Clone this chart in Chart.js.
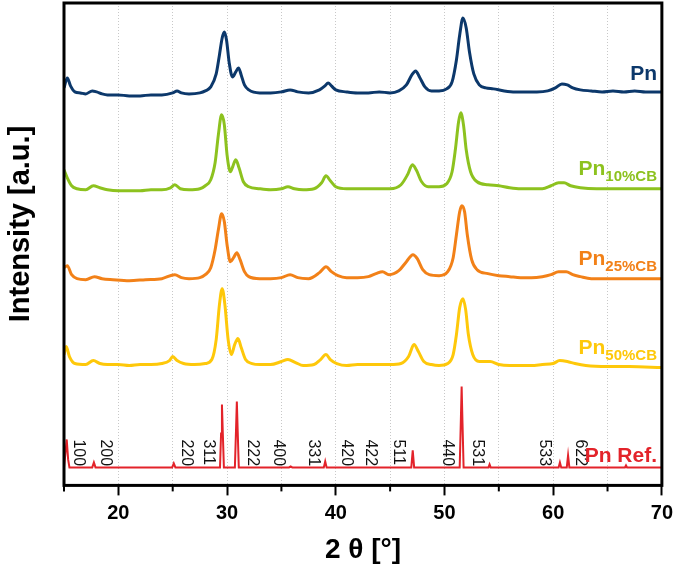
<!DOCTYPE html>
<html>
<head>
<meta charset="utf-8">
<script src="https://cdn.jsdelivr.net/npm/chart.js@4.4.0/dist/chart.umd.min.js"></script>
<style>
  body { margin: 0; background: #fff; }
  #wrap { width: 679px; height: 579px; }
</style>
</head>
<body>
<div id="wrap"><canvas id="xrd" width="679" height="579"></canvas></div>
<script>
// 2 theta positions and intensities (a.u., stacked)
const pnX = [15.0, 15.3, 15.6, 16.0, 16.5, 17.0, 17.6, 18.0, 18.5, 19.0, 20, 21, 22, 23, 24, 25, 25.4, 25.8, 26.5, 27.5, 28.0, 28.5, 29.0, 29.3, 29.55, 29.75, 29.95, 30.2, 30.5, 30.8, 31.05, 31.3, 31.6, 32.0, 33, 34, 35, 35.8, 36.5, 37.5, 38.5, 39.0, 39.3, 39.6, 40.0, 41, 42, 43, 44, 45, 45.8, 46.5, 47.0, 47.35, 47.7, 48.2, 48.8, 49.5, 50.2, 50.7, 51.1, 51.4, 51.7, 52.0, 52.3, 52.7, 53.2, 53.8, 54.5, 55.5, 56.5, 57.5, 58.5, 59.5, 60.2, 60.8, 61.3, 61.8, 62.5, 63.5, 64.5, 65.5, 66.5, 67.5, 68.5, 70];
const pnY = [398, 408, 400, 394, 393, 392, 395, 394, 392, 391, 391, 390, 390, 391, 391, 393, 395, 393, 392, 393, 395, 399, 412, 431, 448, 454, 446, 423, 409, 414, 418, 411, 401, 396, 393, 393, 394, 396, 394, 393, 396, 400, 403, 400, 396, 394, 393, 393, 394, 393, 395, 401, 411, 415, 409, 399, 395, 395, 397, 404, 426, 451, 468, 458, 434, 412, 401, 398, 397, 395, 394, 394, 394, 395, 398, 402, 401, 398, 396, 395, 394, 395, 394, 395, 394, 394];

const pn10X = [15.0, 15.3, 15.7, 16.2, 17.0, 17.7, 18.3, 19, 20, 21, 22, 23, 24, 24.8, 25.2, 25.7, 26.5, 27.5, 28.0, 28.5, 28.9, 29.2, 29.5, 29.75, 30.0, 30.3, 30.55, 30.8, 31.1, 31.5, 32.0, 33, 34, 35, 35.6, 36.2, 37, 38, 38.7, 39.1, 39.5, 40.0, 41, 42, 43, 44, 45, 46.0, 46.6, 47.05, 47.4, 47.9, 48.5, 49.5, 50.2, 50.7, 51.0, 51.3, 51.5, 51.75, 52.0, 52.4, 53.0, 54, 55, 56, 57, 58, 59, 59.8, 60.5, 61.0, 61.6, 62.5, 64, 66, 68, 70];
const pn10Y = [316, 308, 300, 297, 296, 300, 298, 296, 295, 295, 295, 296, 296, 298, 301, 297, 296, 297, 300, 306, 323, 351, 371, 361, 331, 314, 320, 326, 318, 304, 299, 297, 296, 297, 299, 297, 296, 297, 303, 310, 305, 299, 297, 297, 297, 297, 297, 301, 311, 321, 316, 304, 299, 299, 302, 314, 336, 364, 373, 361, 336, 314, 304, 301, 300, 298, 297, 297, 297, 300, 303, 303, 300, 298, 297, 297, 297, 297];

const pn25X = [15.0, 15.3, 15.7, 16.2, 17, 17.8, 18.5, 19.5, 21, 22.5, 24, 25.2, 25.8, 26.5, 27.5, 28.0, 28.5, 28.9, 29.2, 29.5, 29.75, 30.0, 30.3, 30.6, 30.9, 31.2, 31.6, 32.0, 33, 34, 35, 35.8, 36.5, 37.5, 38.5, 39.1, 39.6, 40.2, 41, 42, 43, 43.7, 44.3, 44.9, 45.8, 46.5, 47.1, 47.5, 48.0, 48.6, 49.5, 50.3, 50.8, 51.1, 51.4, 51.6, 51.85, 52.1, 52.5, 53.0, 54, 55, 56, 57, 58, 59, 59.8, 60.5, 61.2, 61.8, 62.5, 63.5, 65, 67, 70];
const pn25Y = [218, 220, 211, 207, 206, 209, 207, 206, 205, 206, 207, 211, 208, 207, 208, 211, 218, 236, 256, 272, 264, 241, 224, 228, 233, 226, 214, 209, 207, 207, 208, 211, 208, 207, 213, 219, 214, 210, 208, 208, 209, 212, 214, 211, 215, 224, 231, 227, 216, 211, 210, 214, 228, 251, 274, 280, 274, 251, 226, 216, 212, 210, 209, 208, 208, 209, 211, 214, 214, 211, 209, 207, 207, 207, 207];

const pn50X = [15.0, 15.2, 15.5, 16.0, 17.0, 17.7, 18.3, 19, 20, 21, 22, 23, 24, 24.7, 25.0, 25.4, 26, 27, 28, 28.6, 29.0, 29.3, 29.55, 29.8, 30.1, 30.4, 30.7, 31.0, 31.3, 31.7, 32.3, 33, 34, 35, 35.6, 36.3, 37, 38, 38.6, 39.1, 39.5, 40.1, 41, 42, 43, 44, 45, 46, 46.7, 47.2, 47.6, 48.1, 48.8, 49.5, 50.3, 50.8, 51.1, 51.4, 51.7, 51.95, 52.2, 52.6, 53.2, 54.2, 55, 56, 57, 58, 59, 60, 60.6, 61.3, 62, 63, 65, 67, 70];
const pn50Y = [131, 139, 129, 122, 121, 125, 122, 121, 121, 120, 121, 121, 122, 125, 129, 125, 122, 121, 122, 126, 146, 181, 197, 181, 146, 131, 141, 147, 138, 126, 122, 121, 121, 124, 126, 123, 120, 121, 126, 131, 126, 122, 120, 121, 121, 121, 121, 122, 129, 141, 134, 124, 121, 120, 122, 131, 151, 178, 187, 176, 151, 131, 124, 124, 121, 120, 120, 120, 121, 122, 125, 124, 122, 120, 119, 119, 118];

const refX = [15.0, 15.12, 15.25, 15.38, 15.5, 17.6, 17.75, 17.9, 24.95, 25.1, 25.25, 29.35, 29.45, 29.53, 29.61, 29.71, 30.72, 30.82, 30.9, 30.98, 31.08, 35.7, 35.85, 36.0, 38.9, 39.03, 39.16, 46.95, 47.08, 47.21, 51.4, 51.5, 51.58, 51.66, 51.76, 54.05, 54.15, 54.25, 60.5, 60.62, 60.74, 61.25, 61.37, 61.49, 66.6, 66.7, 66.8, 70];
const refY = [18, 31, 46, 26, 18, 18, 23, 18, 18, 22, 18, 18, 52, 81, 52, 18, 18, 54, 84, 54, 18, 18, 19, 18, 18, 24, 18, 18, 35, 18, 18, 62, 99, 62, 18, 18, 21, 18, 18, 23, 18, 18, 30, 18, 18, 20, 18, 18];

// series labels at the right (main text + subscript) and their baselines
const seriesNames = ['Pn', 'Pn', 'Pn', 'Pn', 'Pn Ref.'];
const seriesSubs = ['', '10%CB', '25%CB', '50%CB', ''];
const seriesLabelY = [406, 311, 221, 132, 23];
const seriesColors = ['#0c386b', '#8dc21f', '#f28118', '#fec80a', '#e3232a'];

// reflection indices of the reference pattern
const hklText = ['100', '200', '220', '311', '222', '400', '331', '420', '422', '511', '440', '531', '533', '622'];
const hklPos = [16.3, 18.8, 26.3, 28.3, 32.3, 34.7, 37.9, 41.0, 43.2, 45.8, 50.3, 53.0, 59.2, 62.5];
const hklTop = 46;

const xTicks = [15, 20, 25, 30, 35, 40, 45, 50, 55, 60, 65, 70];

const toPts = (xs, ys) => xs.map((x, i) => ({ x: x, y: ys[i] }));

const FONT = 'Liberation Sans, Arial, sans-serif';

const decor = {
  id: 'decor',
  afterDatasetsDraw(chart) {
    const { ctx, chartArea: a, scales } = chart;
    const xs = scales.x, ys = scales.y;
    ctx.save();

    // hkl labels, rotated
    ctx.fillStyle = '#111';
    ctx.font = '16px ' + FONT;
    ctx.textAlign = 'left';
    ctx.textBaseline = 'middle';
    hklText.forEach((t, i) => {
      ctx.save();
      ctx.translate(xs.getPixelForValue(hklPos[i]), ys.getPixelForValue(hklTop));
      ctx.rotate(Math.PI / 2);
      ctx.fillText(t, 0, 0);
      ctx.restore();
    });

    // series names
    const right = xs.getPixelForValue(69.55);
    ctx.textBaseline = 'alphabetic';
    seriesNames.forEach((name, i) => {
      const yb = ys.getPixelForValue(seriesLabelY[i]);
      ctx.fillStyle = seriesColors[i];
      let end = right;
      if (seriesSubs[i]) {
        ctx.font = 'bold 15px ' + FONT;
        ctx.textAlign = 'right';
        ctx.fillText(seriesSubs[i], right, yb + 6);
        end = right - ctx.measureText(seriesSubs[i]).width;
      }
      ctx.font = 'bold 21px ' + FONT;
      ctx.textAlign = 'right';
      ctx.fillText(name, end, yb);
    });

    // minor ticks are shorter
    ctx.strokeStyle = '#000';
    ctx.lineWidth = 2;
    xTicks.forEach((v) => {
      if (v % 10 === 5) {
        const px = xs.getPixelForValue(v);
        ctx.beginPath();
        ctx.moveTo(px, a.bottom);
        ctx.lineTo(px, a.bottom + 6);
        ctx.stroke();
      }
    });

    // frame
    ctx.lineWidth = 3;
    ctx.strokeRect(a.left, a.top, a.right - a.left, a.bottom - a.top);

    // y title
    ctx.fillStyle = '#000';
    ctx.font = 'bold 29px ' + FONT;
    ctx.textAlign = 'center';
    ctx.textBaseline = 'middle';
    ctx.translate(21, 224);
    ctx.rotate(-Math.PI / 2);
    ctx.fillText('Intensity [a.u.]', 0, 0);
    ctx.restore();
  }
};

new Chart(document.getElementById('xrd').getContext('2d'), {
  type: 'line',
  data: {
    datasets: [
      { label: 'Pn', data: toPts(pnX, pnY), borderColor: seriesColors[0], borderWidth: 3, cubicInterpolationMode: 'monotone' },
      { label: 'Pn10%CB', data: toPts(pn10X, pn10Y), borderColor: seriesColors[1], borderWidth: 3, cubicInterpolationMode: 'monotone' },
      { label: 'Pn25%CB', data: toPts(pn25X, pn25Y), borderColor: seriesColors[2], borderWidth: 3, cubicInterpolationMode: 'monotone' },
      { label: 'Pn50%CB', data: toPts(pn50X, pn50Y), borderColor: seriesColors[3], borderWidth: 3, cubicInterpolationMode: 'monotone' },
      { label: 'Pn Ref.', data: toPts(refX, refY), borderColor: seriesColors[4], borderWidth: 2, tension: 0 },
    ],
  },
  options: {
    responsive: false,
    animation: false,
    parsing: false,
    elements: { point: { radius: 0 } },
    layout: { padding: { left: 64, right: 17, top: 3, bottom: 12 } },
    plugins: { legend: { display: false }, tooltip: { enabled: false } },
    scales: {
      x: {
        type: 'linear',
        min: 15,
        max: 70,
        afterBuildTicks: (scale) => { scale.ticks = xTicks.map((v) => ({ value: v })); },
        ticks: {
          color: '#000',
          font: { family: FONT, size: 20, weight: 'bold' },
          padding: 6,
          maxRotation: 0,
          autoSkip: false,
          callback: (v) => (v % 10 === 0 && v !== 15 ? String(v) : ''),
        },
        grid: {
          color: '#c8c8c8',
          lineWidth: 1,
          tickColor: (c) => (c.tick && c.tick.value % 10 === 0 ? '#000' : 'rgba(0,0,0,0)'),
          tickWidth: 2,
          tickLength: 10,
          tickBorderDash: [],
        },
        border: { display: false, dash: [1, 2] },
        title: {
          display: true,
          text: '2 θ [°]',
          color: '#000',
          font: { family: FONT, size: 28, weight: 'bold' },
          padding: { top: 2, bottom: 0 },
        },
      },
      y: {
        display: false,
        min: 0,
        max: 483,
      },
    },
  },
  plugins: [decor],
});
</script>
</body>
</html>
